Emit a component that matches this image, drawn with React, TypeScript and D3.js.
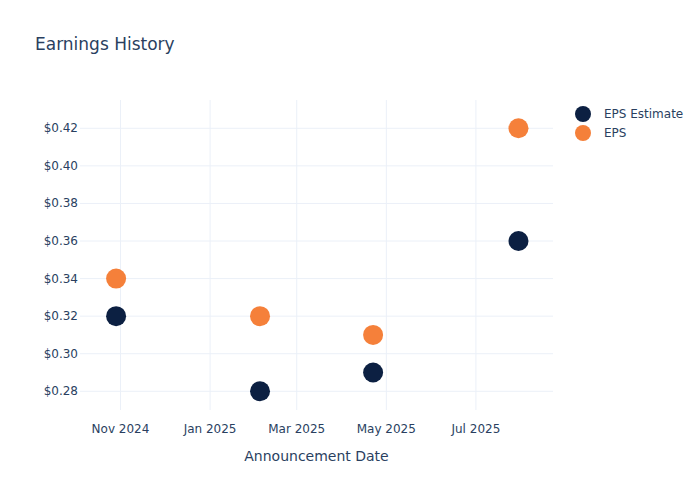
import React from "react";
import * as d3 from "d3";

const dates = ["2024-10-29", "2025-02-04", "2025-04-22", "2025-07-30"];
const epsEstimate = [0.32, 0.28, 0.29, 0.36];
const epsActual = [0.34, 0.32, 0.31, 0.42];
const yTicks = [0.28, 0.3, 0.32, 0.34, 0.36, 0.38, 0.4, 0.42];
const xTicks = ["2024-11-01", "2025-01-01", "2025-03-01", "2025-05-01", "2025-07-01"];
const seriesNames = ["EPS Estimate", "EPS"];
const colors = ["#0c2042", "#f5803a"];

const W = 700, H = 500;
const L = 80, R = 553, T = 100, B = 410;
const FONT = "'DejaVu Sans', Verdana, sans-serif";
const TXT = "#2a3f5f";

export default function App() {
  const parse = d3.utcParse("%Y-%m-%d");
  const x = d3.scaleUtc()
    .domain([new Date(Date.UTC(2024, 9, 4, 10)), new Date(Date.UTC(2025, 7, 22, 12))])
    .range([L, R]);
  const y = d3.scaleLinear().domain([0.28, 0.42]).range([391.3, 128.3]);
  const fmtX = d3.utcFormat("%b %Y");
  const fmtY = (v: number) => "$" + v.toFixed(2);
  const series = [epsEstimate, epsActual];

  return (
    <svg width={W} height={H} style={{ position: "absolute", left: 0, top: 0 }} fontFamily={FONT}>
      <rect width={W} height={H} fill="#fff" />
      <text x={35} y={50} fontSize={17} fill={TXT}>Earnings History</text>
      {yTicks.map((t) => (
        <g key={t}>
          <line x1={L} x2={R} y1={y(t)} y2={y(t)} stroke="#ebf0f8" strokeWidth={1} />
          <text x={78} y={y(t) + 4} fontSize={12} fill={TXT} textAnchor="end">{fmtY(t)}</text>
        </g>
      ))}
      {xTicks.map((t) => {
        const d = parse(t)!;
        return (
          <g key={t}>
            <line x1={x(d)} x2={x(d)} y1={T} y2={B} stroke="#ebf0f8" strokeWidth={1} />
            <text x={x(d)} y={433} fontSize={12} fill={TXT} textAnchor="middle">{fmtX(d)}</text>
          </g>
        );
      })}
      <text x={(L + R) / 2} y={461} fontSize={14} fill={TXT} textAnchor="middle">Announcement Date</text>
      {series.map((s, si) => (
        <g key={si}>
          {s.map((v, i) => (
            <circle key={i} cx={x(parse(dates[i])!)} cy={y(v)} r={10} fill={colors[si]} />
          ))}
        </g>
      ))}
      {seriesNames.map((n, i) => (
        <g key={n}>
          <circle cx={583} cy={114 + i * 19} r={8} fill={colors[i]} />
          <text x={604} y={118 + i * 19} fontSize={12} fill={TXT}>{n}</text>
        </g>
      ))}
    </svg>
  );
}
